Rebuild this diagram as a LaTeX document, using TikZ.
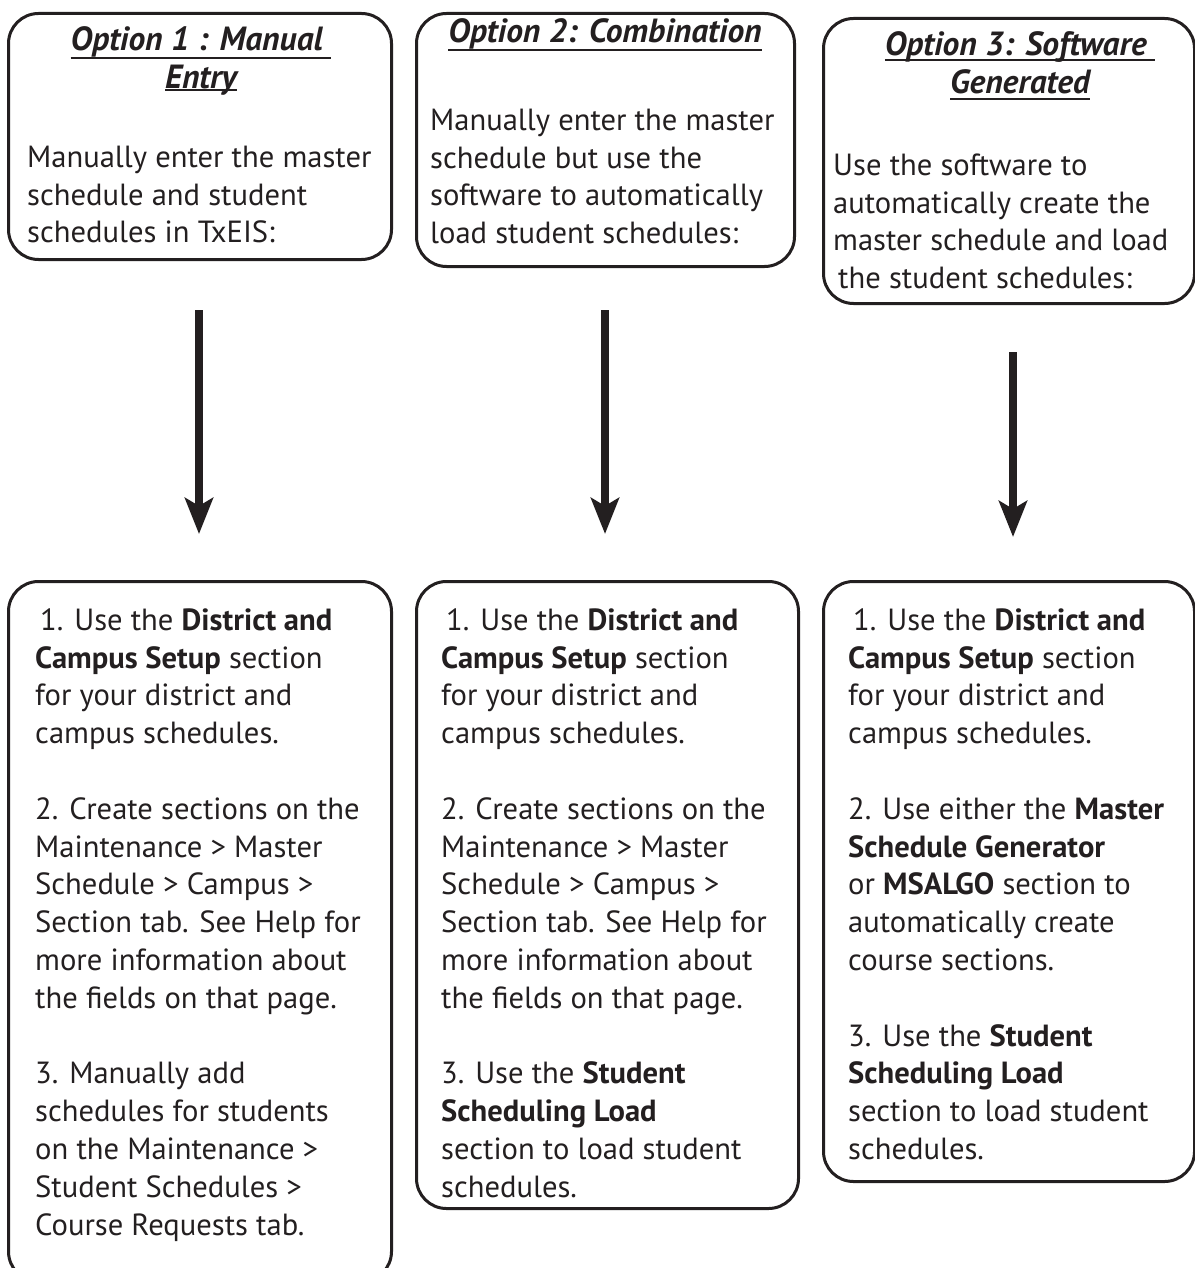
\documentclass[tikz,border=0pt]{standalone}
\usepackage{fontspec}
\setmainfont{PT Sans}
\usetikzlibrary{arrows.meta}
\definecolor{ink}{HTML}{231F20}
\newsavebox\ulbox
\newcommand\ulin[2][9pt]{\sbox\ulbox{#2}\rlap{\rule[-#1]{\wd\ulbox}{2.5pt}}\usebox\ulbox}
\newcommand\st{\rule{0pt}{30pt}}
\begin{document}
\begin{tikzpicture}[x=1pt,y=-1pt,
  box/.style={draw=ink, line width=3pt, rounded corners=30pt, anchor=north west, inner sep=0pt},
  txt/.style={anchor=north west, inner sep=0pt, align=left, text=ink, font=\fontsize{30.6}{37.8}\selectfont},
  ttl/.style={anchor=north, inner sep=0pt, align=center, text=ink, font=\fontsize{33.5}{38}\selectfont\bfseries\itshape},
  arr/.style={draw=ink, line width=8pt, -{Stealth[length=36pt,width=28pt,inset=8pt]}}
]
\useasboundingbox (0,0) rectangle (1194,1268);
% boxes
\node[box, minimum width=383pt, minimum height=246pt] (t1) at (7,12) {};
\node[box, minimum width=378pt, minimum height=253pt] (t2) at (415,12) {};
\node[box, minimum width=371pt, minimum height=285pt] (t3) at (822,17) {};
\node[box, minimum width=383pt, minimum height=700pt] (b1) at (7,580) {};
\node[box, minimum width=382pt, minimum height=627pt] (b2) at (415,580) {};
\node[box, minimum width=371pt, minimum height=600pt] (b3) at (822,580) {};
% titles
\node[ttl] (h1) at (201,20) {\st\ulin{Option 1 : Manual\ }\\\ulin[3pt]{Entry}};
\node[ttl] (h2) at (605,12) {\st\ulin{Option 2: Combination}};
\node[ttl] (h3) at (1020,25) {\st\ulin[6pt]{Option 3: Software\ }\\\ulin[7pt]{Generated}};
% top texts
\node[txt] (p1) at (27,137) {\st Manually enter the master\\schedule and student\\schedules in TxEIS:};
\node[txt] (p2) at (430,100) {\st Manually enter the master\\schedule but use the\\software to automatically\\load student schedules:};
\node[txt] (p3) at (833,145) {\st Use the software to\\automatically create the\\master schedule and load\\\hspace*{5pt}the student schedules:};
% bottom texts
\node[txt] (q1) at (35,600) {\st\hspace*{5pt}1. Use the \textbf{District and}\\\textbf{Campus Setup} section\\for your district and\\campus schedules.\\[37.8pt]
2. Create sections on the\\Maintenance > Master\\Schedule > Campus >\\Section tab. See Help for\\more information about\\the fields on that page.\\[37.8pt]
3. Manually add\\schedules for students\\on the Maintenance >\\Student Schedules >\\Course Requests tab.};
\node[txt] (q2) at (441,600) {\st\hspace*{5pt}1. Use the \textbf{District and}\\\textbf{Campus Setup} section\\for your district and\\campus schedules.\\[37.8pt]
2. Create sections on the\\Maintenance > Master\\Schedule > Campus >\\Section tab. See Help for\\more information about\\the fields on that page.\\[37.8pt]
3. Use the \textbf{Student}\\\textbf{Scheduling Load}\\section to load student\\schedules.};
\node[txt] (q3) at (848,600) {\st\hspace*{5pt}1. Use the \textbf{District and}\\\textbf{Campus Setup} section\\for your district and\\campus schedules.\\[37.8pt]
2. Use either the \textbf{Master}\\\textbf{Schedule Generator}\\or \textbf{MSALGO} section to\\automatically create\\course sections.\\[37.8pt]
3. Use the \textbf{Student}\\\textbf{Scheduling Load}\\section to load student\\schedules.};
% arrows
\coordinate (a1s) at (199,310); \coordinate (a1e) at (199,534);
\coordinate (a2s) at (605,310); \coordinate (a2e) at (605,534);
\coordinate (a3s) at (1013,352); \coordinate (a3e) at (1013,537);
\draw[arr] (a1s) -- (a1e);
\draw[arr] (a2s) -- (a2e);
\draw[arr] (a3s) -- (a3e);
\end{tikzpicture}
\end{document}
